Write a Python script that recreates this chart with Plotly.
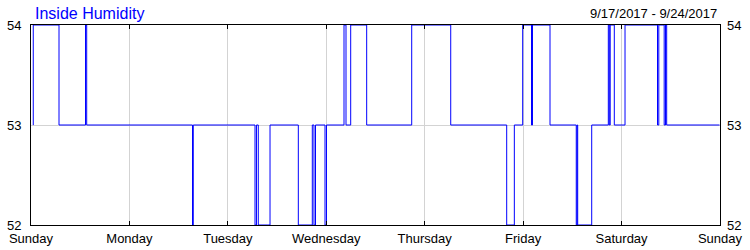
import plotly.graph_objects as go

# Hours since Sunday 9/17/2017 00:00 at which the humidity value changes
change_hours = [0.50, 0.55, 6.83, 13.29, 13.58, 39.38, 39.57, 54.62, 54.98, 55.42,
                58.28, 65.18, 68.59, 69.00, 69.37, 71.69, 72.05, 76.32, 76.81, 77.95,
                81.85, 92.83, 102.34, 115.99, 117.85, 119.89, 122.04, 122.28, 126.55, 132.95,
                133.15, 133.30, 136.72, 140.77, 141.01, 141.23, 142.23, 144.84, 152.76, 153.08,
                154.39, 154.71, 155.00, 167.88]
humidity = [53, 54, 53, 54, 53, 52, 53, 52, 53, 52,
            53, 52, 53, 52, 53, 52, 53, 54, 53, 54,
            53, 54, 53, 52, 53, 54, 53, 54, 53, 52,
            53, 52, 53, 54, 53, 54, 53, 54, 53, 54,
            53, 54, 53, 53]

day_hours = [0, 24, 48, 72, 96, 120, 144, 168]
day_labels = ["Sunday", "Monday", "Tuesday", "Wednesday", "Thursday", "Friday", "Saturday", "Sunday"]
y_ticks = [52, 53, 54]
title_text = "Inside Humidity"
date_range_text = "9/17/2017 - 9/24/2017"

FONT = "Liberation Sans, Arial, sans-serif"

fig = go.Figure()
fig.add_trace(go.Scatter(
    x=change_hours, y=humidity, mode="lines",
    line=dict(color="#0000ff", width=1, shape="hv"),
    hoverinfo="skip", showlegend=False,
))
# invisible trace for the right-hand axis
fig.add_trace(go.Scatter(x=[0], y=[53], yaxis="y2", mode="markers",
                         marker=dict(opacity=0), hoverinfo="skip", showlegend=False))

fig.update_layout(
    width=750, height=250,
    margin=dict(l=31, r=30, t=25, b=25),
    paper_bgcolor="white", plot_bgcolor="white",
    font=dict(family=FONT, size=13, color="black"),
    xaxis=dict(
        range=[0, 168], tickvals=day_hours, ticktext=day_labels,
        showgrid=True, gridcolor="#d3d3d3", gridwidth=1,
        ticks="inside", ticklen=4, tickcolor="black", tickwidth=1,
        showline=True, linecolor="black", linewidth=1, mirror="ticks",
        zeroline=False, tickfont=dict(size=13, family=FONT), automargin=False,
        ticklabelstandoff=1,
    ),
    yaxis=dict(
        range=[52, 54], tickvals=y_ticks,
        showgrid=True, gridcolor="#d3d3d3", gridwidth=1,
        ticks="", ticklabelstandoff=6,
        showline=True, linecolor="black", linewidth=1, mirror=True,
        zeroline=False, tickfont=dict(size=13, family=FONT), automargin=False,
    ),
    yaxis2=dict(
        range=[52, 54], tickvals=y_ticks, overlaying="y", side="right",
        showgrid=False, ticks="", showline=False, zeroline=False,
        ticklabelstandoff=6, tickfont=dict(size=13, family=FONT), automargin=False,
    ),
    annotations=[
        dict(text=title_text, xref="paper", yref="paper", x=2 / 689, y=1.0,
             xanchor="left", yanchor="bottom", yshift=1, showarrow=False,
             font=dict(size=16, color="#0000ff", family=FONT)),
        dict(text=date_range_text, xref="paper", yref="paper", x=1.0, y=1.0,
             xanchor="right", yanchor="bottom", xshift=-1, yshift=2, showarrow=False,
             font=dict(size=13, color="black", family=FONT)),
    ],
)

fig.write_html("out.html")
